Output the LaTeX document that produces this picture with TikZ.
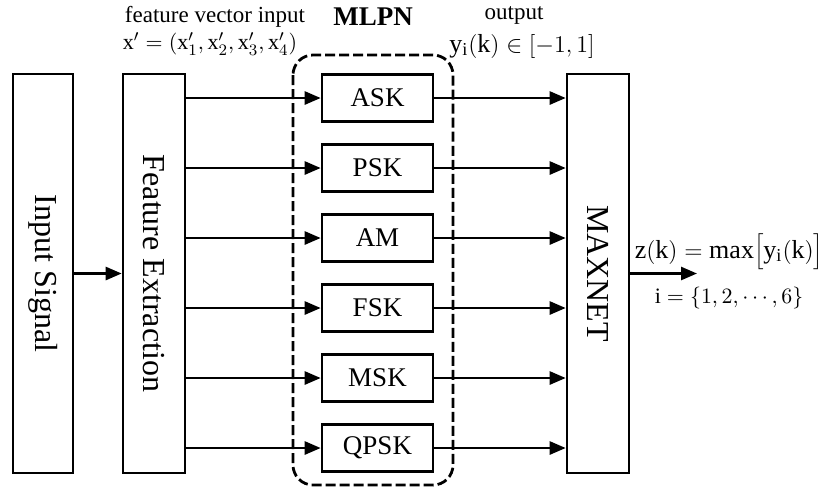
\documentclass[tikz,border=0pt]{standalone}
\usepackage{fontspec}
\setmainfont{Liberation Serif}
\usetikzlibrary{arrows.meta, calc}

\tikzset{
	blk/.style={draw, line width=1.3pt, inner sep=0pt, fill=white},
	flow/.style={line width=1.3pt, -{Triangle[length=8pt, width=6.5pt]}},
	big/.style={font=\fontsize{16}{19}\selectfont},
	small/.style={inner sep=0pt, font=\fontsize{11.5}{13}\selectfont},
	formula/.style={inner sep=0pt, font=\fontsize{13}{15}\selectfont},
}

\begin{document}
\begin{tikzpicture}[x=0.5pt, y=-0.5pt]
	% Parameters
	\def\toprow{98}
	\def\rowsep{70}
	\def\tall{199.5pt}
	\def\midy{273.5}

	% Page
	\fill[white] (0,0) rectangle (833,489);
	\useasboundingbox (0,0) rectangle (833,489);

	% Side blocks
	\node[blk, big, minimum width=30pt, minimum height=\tall] (input) at (43,\midy) {\rotatebox{-90}{Input Signal}};
	\node[blk, big, minimum width=31pt, minimum height=\tall] (feat) at (154,\midy) {\rotatebox{-90}{Feature Extraction}};
	\node[blk, big, minimum width=31pt, minimum height=\tall] (maxnet) at (598,\midy) {\rotatebox{-90}{MAXNET}};

	% MLPN group
	\draw[line width=1.4pt, dash pattern=on 5pt off 2pt, rounded corners=10pt] (293,55) rectangle (453,485);

	% Classifiers
	\foreach \name [count=\i] in {ASK, PSK, AM, FSK, MSK, QPSK} {
		\node[blk, font=\fontsize{13.5}{16}\selectfont, minimum width=55.5pt, minimum height=23.5pt]
			(C\i) at (377.5, {\toprow+(\i-1)*\rowsep}) {\name};
		\draw[flow] (feat.east |- C\i) -- (C\i.west);
		\draw[flow] (C\i.east) -- (maxnet.west |- C\i);
	}

	% Input and output
	\draw[flow] (input.east) -- (feat.west);
	\coordinate (out) at (697,\midy);
	\draw[flow] (maxnet.east) -- (out);

	% Labels top
	\node[small] (fvi) at (215,17) {feature vector input};
	\node[inner sep=0pt, font=\fontsize{13.5}{16}\selectfont\bfseries] (mlpn) at (373,17) {MLPN};
	\node[small] (outlbl) at (514,15) {output};
	\node[inner sep=0pt, font=\fontsize{11}{13}\selectfont] (xvec) at (210,44) {$\mathrm{x}'=(\mathrm{x}'_1,\mathrm{x}'_2,\mathrm{x}'_3,\mathrm{x}'_4)$};
	\node[formula] (yout) at (522,46) {$\mathrm{y_i}(\mathrm{k})\in\bigl[-1,1\bigr]$};

	% Labels right
	\node[formula] (zout) at (729,252) {$\mathrm{z}\bigl(\mathrm{k}\bigr)=\max\Bigl[\mathrm{y_i}\bigl(\mathrm{k}\bigr)\Bigr]$};
	\node[inner sep=0pt, font=\fontsize{11}{13}\selectfont] (irange) at (729,298) {$\mathrm{i}=\{1,2,\cdots,6\}$};

\end{tikzpicture}
\end{document}
